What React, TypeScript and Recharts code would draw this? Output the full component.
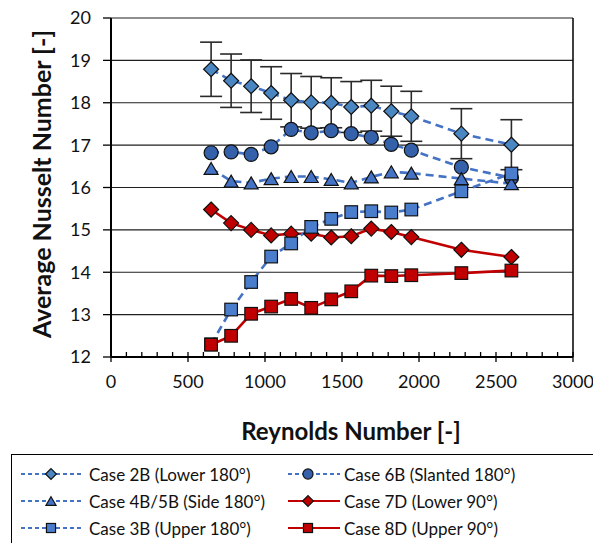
import { ComposedChart, Line, XAxis, YAxis, CartesianGrid, ErrorBar, ReferenceLine } from 'recharts'

const reynolds = [650, 780, 910, 1040, 1170, 1300, 1430, 1560, 1690, 1820, 1950, 2275, 2600]

const case2B = [18.79, 18.52, 18.39, 18.23, 18.06, 18.01, 18.0, 17.9, 17.93, 17.8, 17.68, 17.27, 17.01]
const case2BErr = [0.64, 0.63, 0.62, 0.62, 0.63, 0.61, 0.59, 0.6, 0.6, 0.59, 0.59, 0.59, 0.59]
const case6B = [16.82, 16.84, 16.78, 16.96, 17.37, 17.29, 17.34, 17.27, 17.18, 17.02, 16.88, 16.48, 16.23]
const case4B5B = [16.45, 16.15, 16.11, 16.21, 16.26, 16.26, 16.19, 16.11, 16.25, 16.37, 16.34, 16.21, 16.09]
const case7D = [15.48, 15.16, 15.0, 14.87, 14.91, 14.91, 14.82, 14.85, 15.03, 14.95, 14.83, 14.53, 14.36]
const case3B = [12.3, 13.12, 13.77, 14.37, 14.68, 15.07, 15.26, 15.42, 15.44, 15.41, 15.48, 15.91, 16.33]
const case8D = [12.29, 12.5, 13.02, 13.19, 13.37, 13.16, 13.36, 13.55, 13.92, 13.91, 13.93, 13.98, 14.04]

const yTicks = [12, 13, 14, 15, 16, 17, 18, 19, 20]
const xAllTicks: number[] = []
for (let v = 0; v <= 3000; v += 100) xAllTicks.push(v)

const FONT = 'Lato, "Open Sans", sans-serif'
const BLUE_LINE = '#4472C4'
const RED = '#C00000'

type Shape = 'diamond' | 'circle' | 'triangle' | 'square'

type SeriesDef = {
  name: string
  values: number[]
  err?: number[]
  shape: Shape
  fill: string
  line: string
  dashed: boolean
}

const series: SeriesDef[] = [
  { name: 'Case 2B (Lower 180°)', values: case2B, err: case2BErr, shape: 'diamond', fill: '#4A86C2', line: BLUE_LINE, dashed: true },
  { name: 'Case 6B (Slanted 180°)', values: case6B, shape: 'circle', fill: '#3461AA', line: BLUE_LINE, dashed: true },
  { name: 'Case 4B/5B (Side 180°)', values: case4B5B, shape: 'triangle', fill: '#4472C4', line: BLUE_LINE, dashed: true },
  { name: 'Case 7D (Lower 90°)', values: case7D, shape: 'diamond', fill: RED, line: RED, dashed: false },
  { name: 'Case 3B (Upper 180°)', values: case3B, shape: 'square', fill: '#4A7DCB', line: BLUE_LINE, dashed: true },
  { name: 'Case 8D (Upper 90°)', values: case8D, shape: 'square', fill: RED, line: RED, dashed: false },
]

function Marker({ shape, cx, cy, fill, scale = 1 }: { shape: Shape; cx: number; cy: number; fill: string; scale?: number }) {
  const s = scale
  const common = { fill, stroke: '#111', strokeWidth: 1.2 }
  if (shape === 'diamond') {
    const r = 7.5 * s
    return <polygon points={`${cx},${cy - r} ${cx + r},${cy} ${cx},${cy + r} ${cx - r},${cy}`} {...common} />
  }
  if (shape === 'circle') {
    return <circle cx={cx} cy={cy} r={7 * s} {...common} />
  }
  if (shape === 'triangle') {
    const w = 7 * s
    const h = 12 * s
    return <polygon points={`${cx},${cy - h / 2} ${cx + w},${cy + h / 2} ${cx - w},${cy + h / 2}`} {...common} />
  }
  const h = 6.3 * s
  return <rect x={cx - h} y={cy - h} width={2 * h} height={2 * h} {...common} />
}

function XTick(props: any) {
  const { x, y, payload } = props
  const major = payload.value % 500 === 0
  return (
    <g>
      <line x1={x} x2={x} y1={y - 5} y2={major ? y + 5 : y} stroke="#000" strokeWidth={1.3} />
      {major && (
        <text x={x} y={y + 31} textAnchor="middle" fontSize={18} fontFamily={FONT} fill="#111">
          {payload.value}
        </text>
      )}
    </g>
  )
}

function LegendIcon({ s, col }: { s: SeriesDef; col: number }) {
  const w = col === 0 ? 64 : 56
  const cx = col === 0 ? 31 : 21
  return (
    <svg width={w} height={18} style={{ display: 'block' }}>
      <line
        x1={1}
        x2={w - 3}
        y1={9}
        y2={9}
        stroke={s.line}
        strokeWidth={2}
        strokeDasharray={s.dashed ? '4 3' : undefined}
      />
      <Marker shape={s.shape} cx={cx} cy={9} fill={s.fill} scale={0.72} />
    </svg>
  )
}

export default function App() {
  const width = 593
  const height = 543
  return (
    <div style={{ position: 'absolute', left: 0, top: 0, width, height, overflow: 'hidden', background: '#fff' }}>
      <ComposedChart width={width} height={height} margin={{ top: 18, right: 20, bottom: 146, left: 0 }}>
        <CartesianGrid horizontal vertical={false} stroke="#1f1f1f" strokeWidth={1.2} />
        <XAxis
          dataKey="re"
          type="number"
          domain={[0, 3000]}
          ticks={xAllTicks}
          interval={0}
          tickSize={0}
          tickMargin={0}
          tickLine={false}
          tick={<XTick />}
          axisLine={{ stroke: '#000', strokeWidth: 2 }}
          height={40}
          allowDataOverflow
          label={{
            content: () => (
              <text x={351} y={440} textAnchor="middle" fontSize={24} fontWeight={700} fontFamily={FONT} fill="#111">
                Reynolds Number [-]
              </text>
            ),
          }}
        />
        <YAxis
          type="number"
          domain={[12, 20]}
          ticks={yTicks}
          interval={0}
          width={111}
          tickSize={8}
          tickMargin={12}
          tick={{ fontSize: 18, fontFamily: FONT, fill: '#111' }}
          tickLine={{ stroke: '#000', strokeWidth: 1.3 }}
          axisLine={{ stroke: '#000', strokeWidth: 2 }}
          allowDataOverflow
          label={{
            content: () => (
              <text
                x={51}
                y={184}
                transform="rotate(-90 51 184)"
                textAnchor="middle"
                fontSize={25}
                fontWeight={700}
                fontFamily={FONT}
                fill="#111"
              >
                Average Nusselt Number [-]
              </text>
            ),
          }}
        />
        <ReferenceLine x={3000} stroke="#000" strokeWidth={1.5} />
        {series.map((s) => {
          const data = reynolds.map((re, i) => ({ re, nu: s.values[i], err: s.err ? s.err[i] : 0 }))
          return (
            <Line
              key={s.name}
              name={s.name}
              data={data}
              dataKey="nu"
              type="linear"
              stroke={s.line}
              strokeWidth={2.6}
              strokeDasharray={s.dashed ? '8 5' : undefined}
              isAnimationActive={false}
              activeDot={false}
              dot={(p: any) => <Marker key={`${s.name}-${p.index}`} shape={s.shape} cx={p.cx} cy={p.cy} fill={s.fill} />}
            >
              {s.err && <ErrorBar dataKey="err" width={11} stroke="#2a2a2a" strokeWidth={1.6} direction="y" />}
            </Line>
          )
        })}
      </ComposedChart>
      <div
        style={{
          position: 'absolute',
          left: 11,
          top: 454,
          width: 600,
          height: 100,
          border: '1.5px solid #000',
          boxSizing: 'border-box',
          fontFamily: FONT,
          fontSize: 17,
          color: '#111',
        }}
      >
        {series.map((s, i) => {
          const col = i % 2
          const row = Math.floor(i / 2)
          return (
            <div
              key={s.name}
              style={{
                position: 'absolute',
                left: col === 0 ? 8 : 275,
                top: 9 + row * 27,
                display: 'flex',
                alignItems: 'center',
                whiteSpace: 'nowrap',
                height: 20,
              }}
            >
              <LegendIcon s={s} col={col} />
              <span style={{ marginLeft: col === 0 ? 5 : 1 }}>{s.name}</span>
            </div>
          )
        })}
      </div>
    </div>
  )
}
